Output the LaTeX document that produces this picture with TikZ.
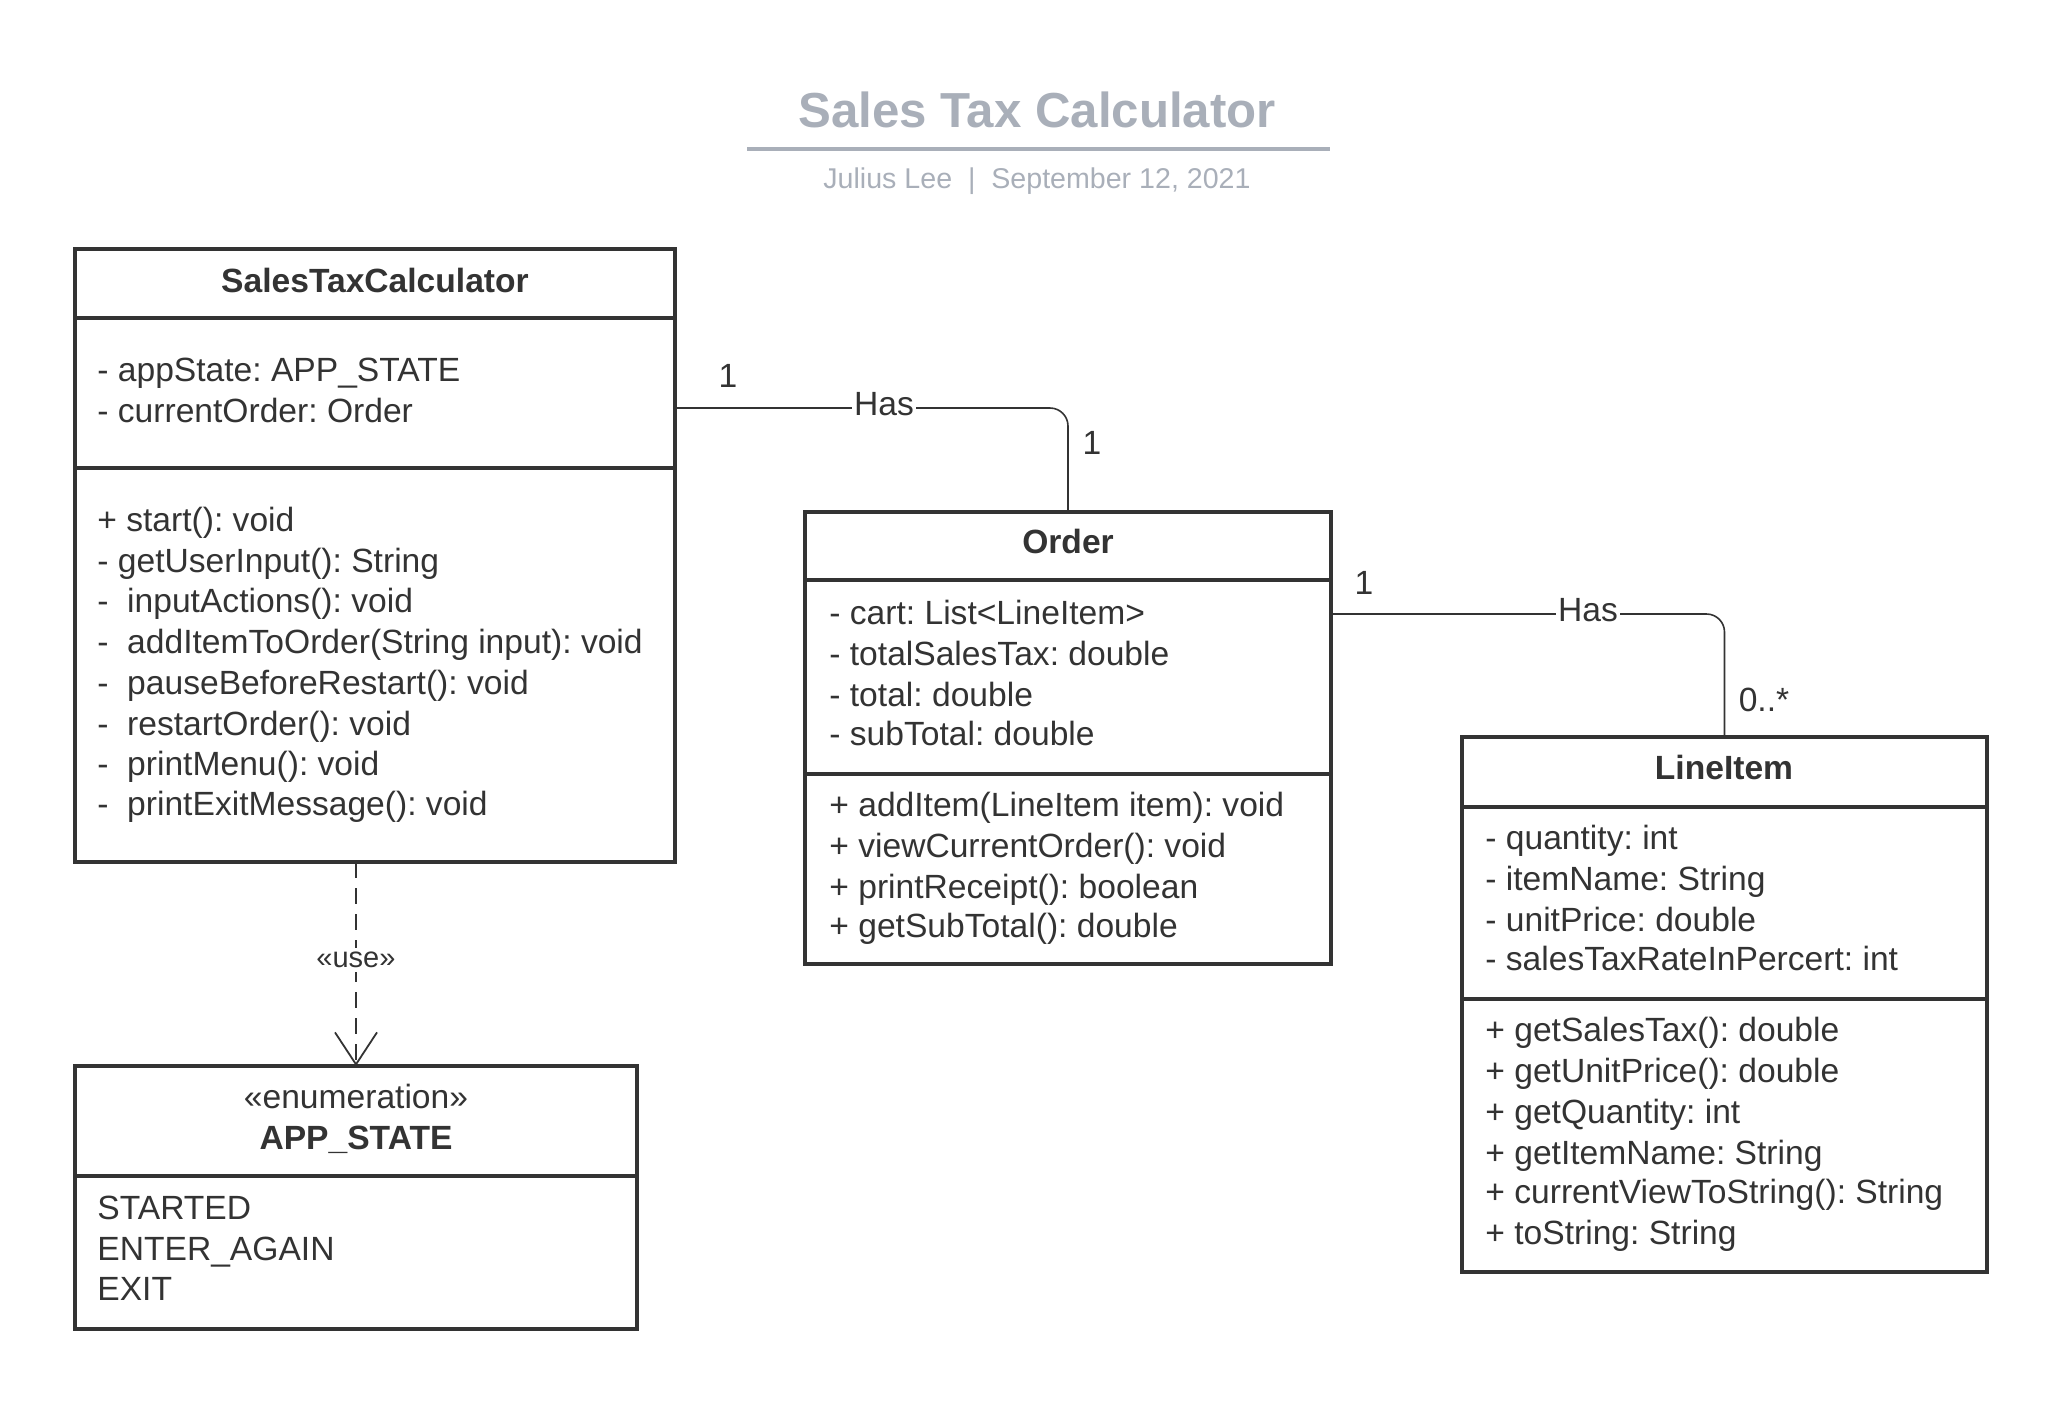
\documentclass[tikz,border=0pt]{standalone}
\usepackage{fontspec}
\setmainfont{Liberation Sans}
\usetikzlibrary{arrows.meta}
\definecolor{ink}{HTML}{333333}
\definecolor{titlegray}{HTML}{A9AFB9}
\newcommand{\bodyfont}{\fontsize{16.8}{20}\selectfont}
\frenchspacing
\begin{document}
\begin{tikzpicture}[x=0.5pt,y=-0.5pt,
  classbox/.style={draw=ink, line width=1.6pt, inner sep=0, outer sep=0, anchor=north west},
  divider/.style={draw=ink, line width=1.6pt},
  txt/.style={anchor=base west, inner sep=0, font=\bodyfont, text=ink},
  ctitle/.style={anchor=base, inner sep=0, font=\bodyfont\bfseries, text=ink},
  assoc/.style={draw=ink, line width=0.8pt, rounded corners=9pt},
  lbl/.style={inner sep=1pt, font=\bodyfont, text=ink},
  haslbl/.style={inner sep=1pt, font=\bodyfont, text=ink, fill=white},
  dep/.style={draw=ink, line width=0.9pt, dash pattern=on 8pt off 5pt,
    -{Straight Barb[length=16pt,width=21pt]}}
]
\useasboundingbox (0,0) rectangle (2063,1404);

% Title block
\node[anchor=base, inner sep=0, font=\fontsize{24.6}{28}\selectfont\bfseries, text=titlegray] (title) at (1037,127) {Sales Tax Calculator};
\coordinate (ulL) at (747,149);
\coordinate (ulR) at (1330,149);
\draw[titlegray, line width=2pt] (ulL) -- (ulR);
\node[anchor=base, inner sep=0, font=\fontsize{14.3}{16}\selectfont, text=titlegray] (subtitle) at (1037,188) {Julius Lee\ \ |\ \ September 12, 2021};

% SalesTaxCalculator
\node[classbox, minimum width=300pt, minimum height=306.5pt] (stc) at (75,249) {};
\draw[divider] (stc.west |- 0,318) -- (stc.east |- 0,318);
\draw[divider] (stc.west |- 0,468) -- (stc.east |- 0,468);
\node[ctitle] (stcT) at (375,292) {SalesTaxCalculator};
\foreach \yy/\tt [count=\i] in {381/{- appState: APP\_STATE}, 422/{- currentOrder: Order}}
  \node[txt] (stcA\i) at (97,\yy) {\tt};
\foreach \yy/\tt [count=\i] in {531/{+ start(): void}, 572/{- getUserInput(): String},
  612/{-~~inputActions(): void}, 653/{-~~addItemToOrder(String input): void},
  694/{-~~pauseBeforeRestart(): void}, 735/{-~~restartOrder(): void},
  775/{-~~printMenu(): void}, 815/{-~~printExitMessage(): void}}
  \node[txt] (stcM\i) at (97,\yy) {\tt};

% APP_STATE
\node[classbox, minimum width=281pt, minimum height=131.5pt] (app) at (75,1066) {};
\draw[divider] (app.west |- 0,1176) -- (app.east |- 0,1176);
\node[anchor=base, inner sep=0, font=\bodyfont, text=ink] (appS) at (356,1108) {«enumeration»};
\node[ctitle] (appT) at (356,1149) {APP\_STATE};
\foreach \yy/\tt [count=\i] in {1219/{STARTED}, 1260/{ENTER\_AGAIN}, 1300/{EXIT}}
  \node[txt] (appV\i) at (97,\yy) {\tt};

% Order
\node[classbox, minimum width=263pt, minimum height=226pt] (order) at (805,512) {};
\draw[divider] (order.west |- 0,580) -- (order.east |- 0,580);
\draw[divider] (order.west |- 0,774) -- (order.east |- 0,774);
\node[ctitle] (orderT) at (1068,553) {Order};
\foreach \yy/\tt [count=\i] in {624/{- cart: List<LineItem>}, 665/{- totalSalesTax: double},
  706/{- total: double}, 745/{- subTotal: double}}
  \node[txt] (orderA\i) at (829,\yy) {\tt};
\foreach \yy/\tt [count=\i] in {816/{+ addItem(LineItem item): void}, 857/{+ viewCurrentOrder(): void},
  898/{+ printReceipt(): boolean}, 937/{+ getSubTotal(): double}}
  \node[txt] (orderM\i) at (829,\yy) {\tt};

% LineItem
\node[classbox, minimum width=262.5pt, minimum height=267.5pt] (line) at (1462,737) {};
\draw[divider] (line.west |- 0,807) -- (line.east |- 0,807);
\draw[divider] (line.west |- 0,999) -- (line.east |- 0,999);
\node[ctitle] (lineT) at (1724,779) {LineItem};
\foreach \yy/\tt [count=\i] in {849/{- quantity: int}, 890/{- itemName: String},
  931/{- unitPrice: double}, 970/{- salesTaxRateInPercert: int}}
  \node[txt] (lineA\i) at (1485,\yy) {\tt};
\foreach \yy/\tt [count=\i] in {1041/{+ getSalesTax(): double}, 1082/{+ getUnitPrice(): double},
  1123/{+ getQuantity: int}, 1164/{+ getItemName: String},
  1203/{+ currentViewToString(): String}, 1244/{+ toString: String}}
  \node[txt] (lineM\i) at (1485,\yy) {\tt};

% Connectors
\path (stc.north east) ++(0,159) coordinate (c1s);
\draw[assoc] (c1s) -| (order.north);
\node[haslbl] (has1) at (884,404) {Has};
\node[lbl] (m1a) at (728,376) {1};
\node[lbl] (m1b) at (1092,443) {1};

\path (order.north east) ++(0,102) coordinate (c2s);
\draw[assoc] (c2s) -| (line.north);
\node[haslbl] (has2) at (1588,610) {Has};
\node[lbl] (m2a) at (1364,583) {1};
\node[lbl] (m2b) at (1764,700) {0..*};

\draw[dep] (stc.south -| app.north) -- (app.north);
\node[inner sep=2pt, fill=white, font=\fontsize{14.5}{16}\selectfont, text=ink] (use) at (356,960) {«use»};
\end{tikzpicture}
\end{document}
